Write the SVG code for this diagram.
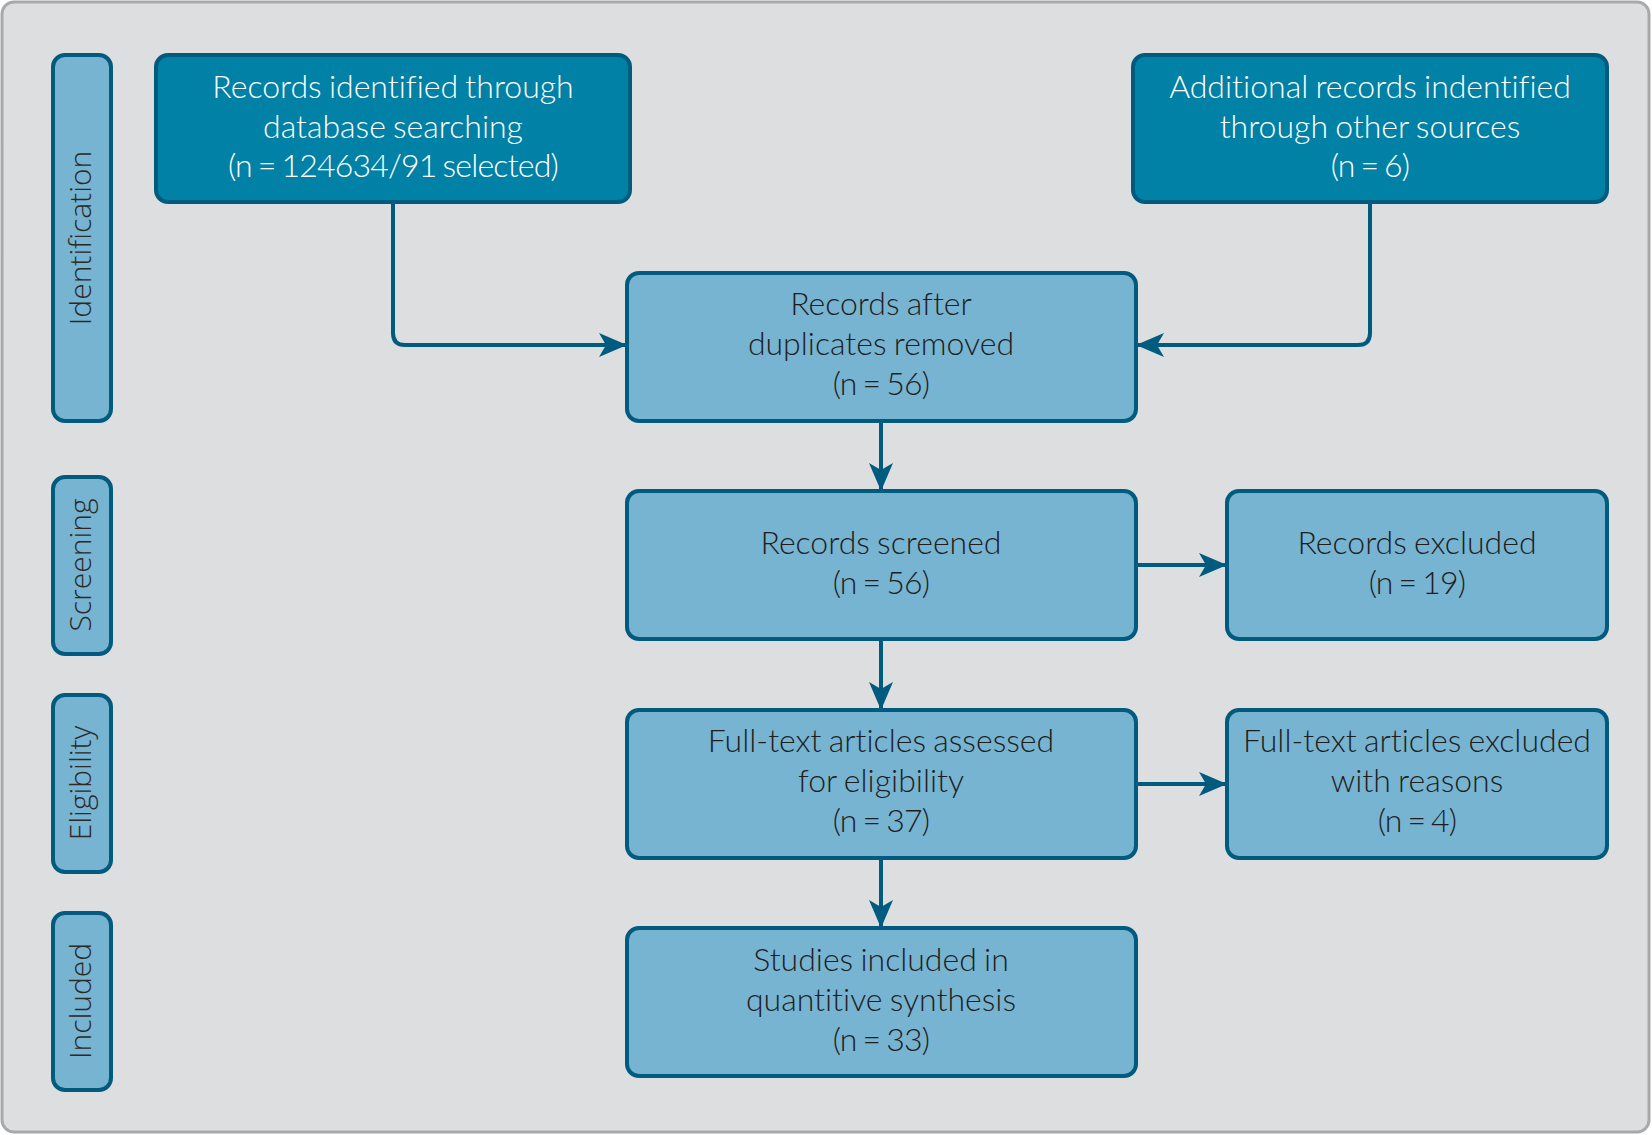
<svg xmlns="http://www.w3.org/2000/svg" width="1652" height="1135" viewBox="0 0 1652 1135">
<defs>
<style>
.dark{fill:#0081a5;stroke:#005b7f;stroke-width:4}
.light{fill:#77b4d2;stroke:#005b7f;stroke-width:4}
.t{font-family:Lato,"Liberation Sans",sans-serif;font-weight:300;font-size:32px;word-spacing:-1.5px;text-anchor:middle;font-variant-ligatures:none;font-feature-settings:"liga" 0,"dlig" 0}
.n{letter-spacing:-0.8px;word-spacing:-2px}
.tw{fill:#ffffff}
.tk{fill:#1e1e1e}
.side{font-family:"Open Sans","Liberation Sans",sans-serif;font-weight:300;font-size:30px;text-anchor:middle;fill:#2a2a2a}
.conn{fill:none;stroke:#005b7f;stroke-width:4}
</style>
<marker id="ah" viewBox="0 0 28 24" refX="28" refY="12" markerWidth="28" markerHeight="24" markerUnits="userSpaceOnUse" orient="auto">
<path d="M0,0 L28,12 L0,24 L7,12 Z" fill="#005b7f"/>
</marker>
</defs>
<rect x="2" y="2" width="1647" height="1130" rx="12" fill="#dddee0" stroke="#a8a9ab" stroke-width="3"/>

<g id="stage-identification">
<rect class="light" x="53" y="55" width="58" height="366" rx="12"/>
<text class="side" transform="translate(91,238) rotate(-90)">Identification</text>
</g>
<g id="stage-screening">
<rect class="light" x="53" y="477" width="58" height="177" rx="12"/>
<text class="side" transform="translate(91,565) rotate(-90)">Screening</text>
</g>
<g id="stage-eligibility">
<rect class="light" x="53" y="695" width="58" height="177" rx="12"/>
<text class="side" transform="translate(91,783) rotate(-90)">Eligibility</text>
</g>
<g id="stage-included">
<rect class="light" x="53" y="913" width="58" height="177" rx="12"/>
<text class="side" transform="translate(91,1001) rotate(-90)">Included</text>
</g>

<g id="connectors">
<path class="conn" d="M393,202 V333 Q393,345 405,345 H627" marker-end="url(#ah)"/>
<path class="conn" d="M1370,202 V333 Q1370,345 1358,345 H1136" marker-end="url(#ah)"/>
<path class="conn" d="M881,421 V491" marker-end="url(#ah)"/>
<path class="conn" d="M1136,565 H1227" marker-end="url(#ah)"/>
<path class="conn" d="M881,639 V710" marker-end="url(#ah)"/>
<path class="conn" d="M1136,784 H1227" marker-end="url(#ah)"/>
<path class="conn" d="M881,858 V928" marker-end="url(#ah)"/>
</g>

<g id="db-search">
<rect class="dark" x="156" y="55" width="474" height="147" rx="12"/>
<text class="t tw" x="393" y="98">Records identified through</text>
<text class="t tw" x="393" y="137.5">database searching</text>
<text class="t tw n" x="393" y="177">(n = 124634/91 selected)</text>
</g>
<g id="other-sources">
<rect class="dark" x="1133" y="55" width="474" height="147" rx="12"/>
<text class="t tw" x="1370" y="98">Additional records indentified</text>
<text class="t tw" x="1370" y="137.5">through other sources</text>
<text class="t tw n" x="1370" y="177">(n = 6)</text>
</g>
<g id="after-duplicates">
<rect class="light" x="627" y="273" width="509" height="148" rx="12"/>
<text class="t tk" x="881" y="315">Records after</text>
<text class="t tk" x="881" y="355">duplicates removed</text>
<text class="t tk n" x="881" y="395">(n = 56)</text>
</g>
<g id="screened">
<rect class="light" x="627" y="491" width="509" height="148" rx="12"/>
<text class="t tk" x="881" y="554">Records screened</text>
<text class="t tk n" x="881" y="594">(n = 56)</text>
</g>
<g id="excluded">
<rect class="light" x="1227" y="491" width="380" height="148" rx="12"/>
<text class="t tk" x="1417" y="554">Records excluded</text>
<text class="t tk n" x="1417" y="594">(n = 19)</text>
</g>
<g id="fulltext-assessed">
<rect class="light" x="627" y="710" width="509" height="148" rx="12"/>
<text class="t tk" x="881" y="752">Full-text articles assessed</text>
<text class="t tk" x="881" y="792">for eligibility</text>
<text class="t tk n" x="881" y="832">(n = 37)</text>
</g>
<g id="fulltext-excluded">
<rect class="light" x="1227" y="710" width="380" height="148" rx="12"/>
<text class="t tk" x="1417" y="752">Full-text articles excluded</text>
<text class="t tk" x="1417" y="792">with reasons</text>
<text class="t tk n" x="1417" y="832">(n = 4)</text>
</g>
<g id="included-studies">
<rect class="light" x="627" y="928" width="509" height="148" rx="12"/>
<text class="t tk" x="881" y="971">Studies included in</text>
<text class="t tk" x="881" y="1011">quantitive synthesis</text>
<text class="t tk n" x="881" y="1051">(n = 33)</text>
</g>
</svg>
